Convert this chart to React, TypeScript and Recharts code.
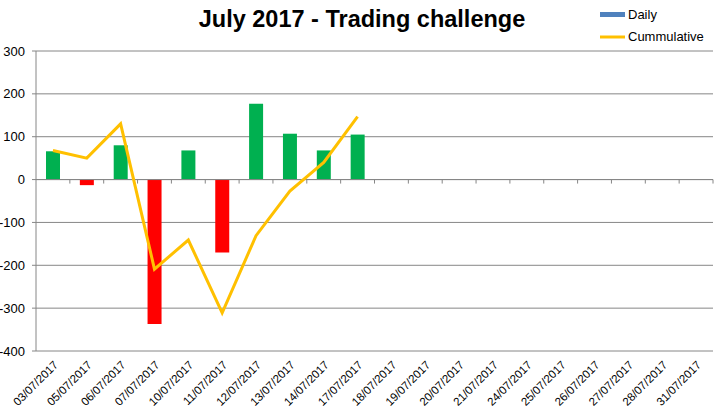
import React from 'react';
import { ComposedChart, Bar, Line, XAxis, YAxis, CartesianGrid, ReferenceLine, Cell } from 'recharts';

const categories = [
  '03/07/2017', '05/07/2017', '06/07/2017', '07/07/2017', '10/07/2017',
  '11/07/2017', '12/07/2017', '13/07/2017', '14/07/2017', '17/07/2017',
  '18/07/2017', '19/07/2017', '20/07/2017', '21/07/2017', '24/07/2017',
  '25/07/2017', '26/07/2017', '27/07/2017', '28/07/2017', '31/07/2017',
];
const daily: (number | null)[] = [66, -13, 80, -337, 68, -170, 177, 107, 68, 105,
  null, null, null, null, null, null, null, null, null, null];
const cumulative: (number | null)[] = [68, 50, 130, -209, -141, -311, -131, -27, 40, 147,
  null, null, null, null, null, null, null, null, null, null];
const yTicks = [-400, -300, -200, -100, 0, 100, 200, 300];

const data = categories.map((date, i) => ({ date, daily: daily[i], cumulative: cumulative[i] }));

const FONT = '"Liberation Sans", Arial, sans-serif';

const ZeroLine = (props: any) => {
  const { x1, x2, y1 } = props;
  const n = categories.length;
  const step = (x2 - x1) / n;
  const ticks = [];
  for (let i = 1; i <= n; i++) {
    const x = x1 + step * i;
    ticks.push(<line key={i} x1={x} x2={x} y1={y1} y2={y1 + 4} stroke="#868686" strokeWidth={1} />);
  }
  return (
    <g>
      <line x1={x1} x2={x2} y1={y1} y2={y1} stroke="#868686" strokeWidth={1} />
      {ticks}
    </g>
  );
};

const LegendBox = () => (
  <svg width={116} height={48} style={{ fontFamily: FONT, display: 'block' }}>
    <rect x={0} y={12} width={25} height={5} fill="#4F81BD" />
    <text x={28} y={19} fontSize={13} fill="#000">Daily</text>
    <line x1={0} x2={25} y1={37} y2={37} stroke="#FFC000" strokeWidth={3} />
    <text x={28} y={41} fontSize={13} fill="#000">Cummulative</text>
  </svg>
);

export default function App() {
  return (
    <div style={{ position: 'absolute', left: 0, top: 0, width: 716, height: 411, background: '#fff', fontFamily: FONT }}>
      <ComposedChart
        width={716}
        height={411}
        data={data}
        margin={{ top: 51, right: 3, bottom: 0, left: 0 }}
      >
        <CartesianGrid vertical={false} stroke="#868686" strokeWidth={1} />
        <XAxis
          dataKey="date"
          interval={0}
          angle={-45}
          textAnchor="end"
          height={60}
          tickLine={false}
          axisLine={false}
          tickMargin={3}
          tick={{ fontSize: 11.5, fill: '#000', fontFamily: FONT }}
        />
        <YAxis
          domain={[-400, 300]}
          ticks={yTicks}
          interval={0}
          width={36}
          tickSize={4}
          tickMargin={7}
          axisLine={{ stroke: '#868686' }}
          tickLine={{ stroke: '#868686' }}
          tick={{ fontSize: 13, fill: '#000', fontFamily: FONT }}
        />
        <ReferenceLine y={0} shape={<ZeroLine />} />
        <Bar dataKey="daily" name="Daily" fill="#4F81BD" barSize={14} isAnimationActive={false}>
          {data.map((d, i) => (
            <Cell key={i} fill={(d.daily ?? 0) < 0 ? '#FF0000' : '#00B050'} />
          ))}
        </Bar>
        <Line
          dataKey="cumulative"
          name="Cummulative"
          type="linear"
          stroke="#FFC000"
          strokeWidth={3}
          dot={false}
          activeDot={false}
          isAnimationActive={false}
        />
      </ComposedChart>
      <div style={{ position: 'absolute', left: 0, top: 4, width: 724, textAlign: 'center', fontSize: 23.5, fontWeight: 'bold', color: '#000', fontFamily: FONT, lineHeight: '30px' }}>
        July 2017 - Trading challenge
      </div>
      <div style={{ position: 'absolute', left: 600, top: 0 }}>
        <LegendBox />
      </div>
    </div>
  );
}
